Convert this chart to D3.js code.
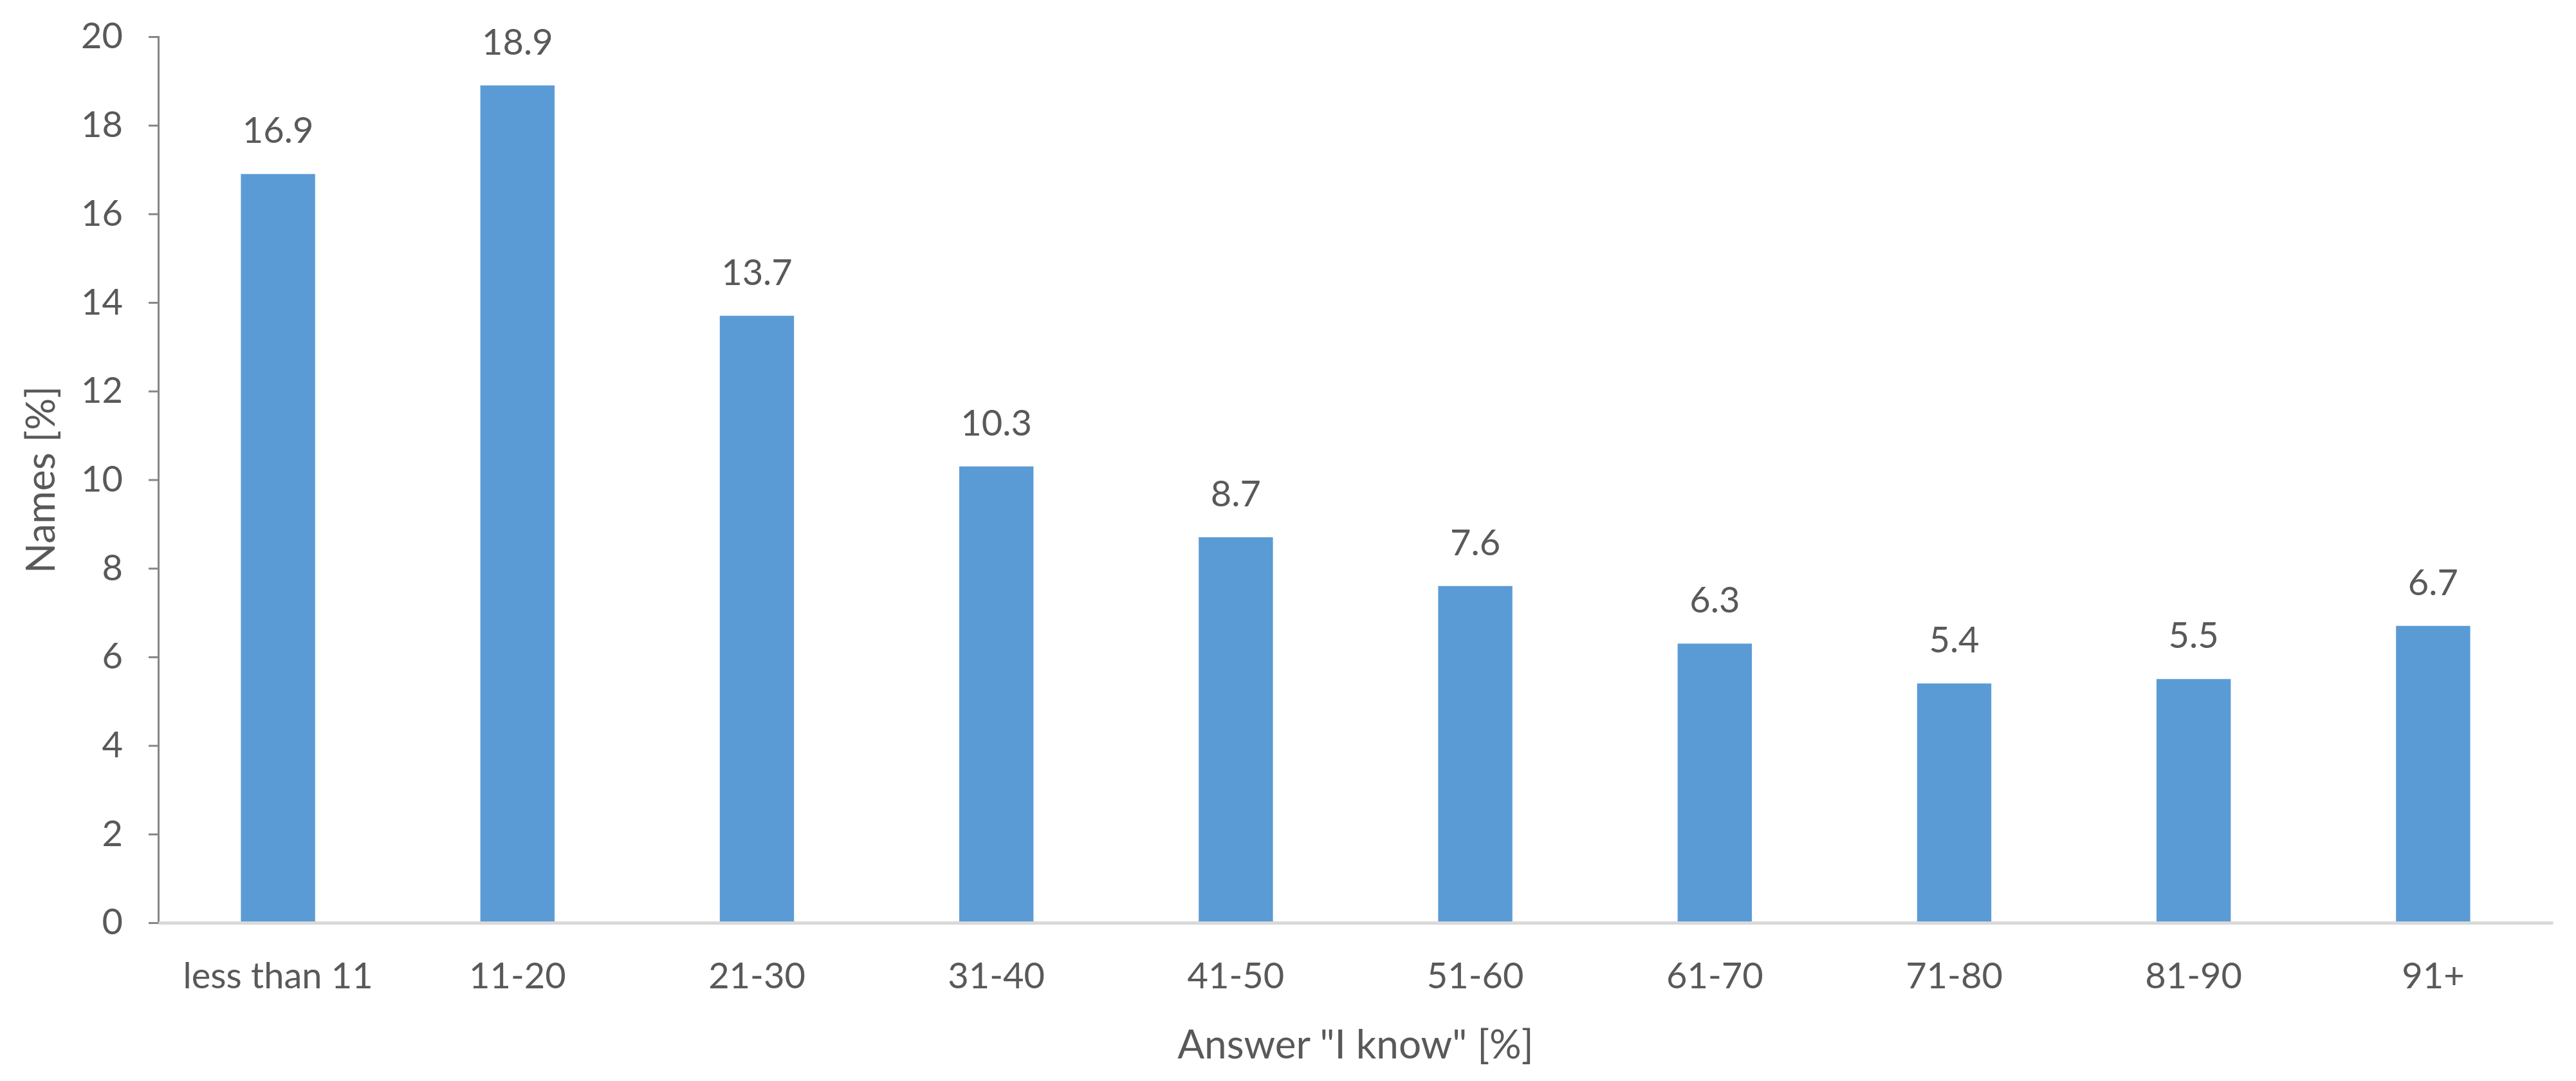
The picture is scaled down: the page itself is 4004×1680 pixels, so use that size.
<!DOCTYPE html>
<html>
<head>
<meta charset="utf-8">
<script src="https://cdn.jsdelivr.net/npm/d3@7"></script>
<style>
  html, body { margin: 0; padding: 0; background: #fff; }
  svg { display: block; }
  text { font-family: Lato, "Open Sans", sans-serif; fill: #595959; }
</style>
</head>
<body>
<svg id="chart" width="4004" height="1680"></svg>
<script>
const categories = ["less than 11", "11-20", "21-30", "31-40", "41-50", "51-60", "61-70", "71-80", "81-90", "91+"];
const values = [16.9, 18.9, 13.7, 10.3, 8.7, 7.6, 6.3, 5.4, 5.5, 6.7];
const yTicks = [0, 2, 4, 6, 8, 10, 12, 14, 16, 18, 20];
const xTitle = 'Answer "I know" [%]';
const yTitle = "Names [%]";

const svg = d3.select("#chart");
const margin = { left: 246, right: 36, top: 57, bottom: 246 };
const W = 4004, H = 1680;
const plotW = W - margin.left - margin.right;
const plotH = H - margin.top - margin.bottom;

const g = svg.append("g").attr("transform", `translate(${margin.left},${margin.top})`);

const x = d3.scaleBand().domain(categories).range([0, plotW]).paddingInner(0.69).paddingOuter(0.345);
const y = d3.scaleLinear().domain([0, 20]).range([plotH, 0]);

// bars
g.selectAll("rect.bar").data(values).enter().append("rect")
  .attr("class", "bar")
  .attr("x", (d, i) => x(categories[i]))
  .attr("width", x.bandwidth())
  .attr("y", d => y(d))
  .attr("height", d => y(0) - y(d))
  .attr("fill", "#5B9BD5");

// y axis
const yAxis = g.append("g").call(d3.axisLeft(y).tickValues(yTicks).tickSize(15).tickPadding(40).tickFormat(d3.format("d")));
yAxis.select(".domain").attr("stroke", "#868686").attr("stroke-width", 3);
yAxis.selectAll(".tick line").attr("stroke", "#868686").attr("stroke-width", 3);
yAxis.selectAll(".tick text").style("font-size", "56px").attr("fill", "#595959").style("font-family", "Lato, sans-serif");

// x axis
const xAxis = g.append("g").attr("transform", `translate(0,${plotH})`)
  .call(d3.axisBottom(x).tickSize(0).tickPadding(62));
xAxis.select(".domain").attr("stroke", "#D9D9D9").attr("stroke-width", 5);
xAxis.selectAll(".tick text").style("font-size", "56px").attr("fill", "#595959").style("font-family", "Lato, sans-serif");

// data labels
g.selectAll("text.lbl").data(values).enter().append("text")
  .attr("class", "lbl")
  .attr("x", (d, i) => x(categories[i]) + x.bandwidth() / 2)
  .attr("y", d => y(d) - 48)
  .attr("text-anchor", "middle")
  .style("font-size", "56px")
  .text(d => d3.format(".1f")(d));

// axis titles
svg.append("text")
  .attr("x", margin.left + plotW / 2)
  .attr("y", 1645)
  .attr("text-anchor", "middle")
  .style("font-size", "62px")
  .text(xTitle);

svg.append("text")
  .attr("transform", `translate(${85},${margin.top + plotH / 2}) rotate(-90)`)
  .attr("text-anchor", "middle")
  .style("font-size", "62px")
  .text(yTitle);
</script>
</body>
</html>
